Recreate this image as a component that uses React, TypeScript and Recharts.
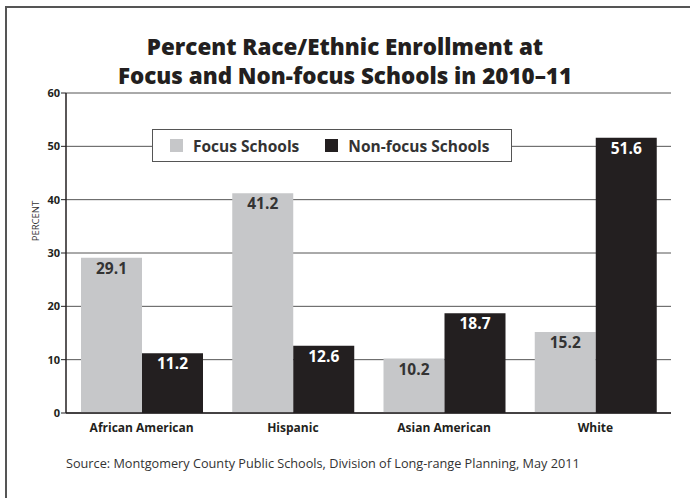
import React from 'react';
import { BarChart, Bar, XAxis, YAxis, CartesianGrid, LabelList } from 'recharts';

const categories = ['African American', 'Hispanic', 'Asian American', 'White'];
const focusValues = [29.1, 41.2, 10.2, 15.2];
const nonFocusValues = [11.2, 12.6, 18.7, 51.6];
const yTicks = [0, 10, 20, 30, 40, 50, 60];
const titleLines = ['Percent Race/Ethnic Enrollment at', 'Focus and Non-focus Schools in 2010\u201311'];
const sourceText = 'Source: Montgomery County Public Schools, Division of Long-range Planning, May 2011';
const seriesNames = ['Focus Schools', 'Non-focus Schools'];
const yAxisTitle = 'PERCENT';

const data = categories.map((c, i) => ({ name: c, focus: focusValues[i], nonfocus: nonFocusValues[i] }));

const GRAY = '#c6c7c9';
const BLACK = '#231f20';
const FONT = '"Open Sans", "Noto Sans", sans-serif';

const LegendBox = () => (
  <div
    style={{
      position: 'absolute',
      left: 152,
      top: 129,
      width: 360,
      height: 33,
      boxSizing: 'border-box',
      border: '1.5px solid #555',
      background: '#fff',
      display: 'flex',
      alignItems: 'center',
      fontFamily: FONT,
      fontWeight: 700,
      fontSize: 15.5,
      color: '#333',
      whiteSpace: 'nowrap',
    }}
  >
    <span style={{ display: 'inline-block', width: 13, height: 13, background: GRAY, marginLeft: 17 }} />
    <span style={{ marginLeft: 10 }}>{seriesNames[0]}</span>
    <span style={{ display: 'inline-block', width: 13, height: 13, background: BLACK, marginLeft: 26 }} />
    <span style={{ marginLeft: 10 }}>{seriesNames[1]}</span>
  </div>
);

const AxisTitle = (props: any) => {
  const vb = props.viewBox || {};
  const cx = 35;
  const cy = (vb.y || 0) + (vb.height || 0) / 2 - 32;
  return (
    <text
      x={cx}
      y={cy}
      transform={`rotate(-90, ${cx}, ${cy})`}
      textAnchor="middle"
      dominantBaseline="central"
      style={{ fontFamily: FONT, fontSize: 9.5, fill: '#333' }}
    >
      {yAxisTitle}
    </text>
  );
};

export default function App() {
  return (
    <div style={{ position: 'absolute', left: 0, top: 0, width: 690, height: 498, background: '#fff', overflow: 'hidden' }}>
      <div
        style={{
          position: 'absolute',
          left: 5,
          top: 6,
          width: 700,
          height: 510,
          borderLeft: '2px solid #555',
          borderTop: '2px solid #555',
        }}
      />
      <div
        style={{
          position: 'absolute',
          left: 0,
          top: 32,
          width: 690,
          textAlign: 'center',
          fontFamily: '"Open Sans", sans-serif',
          fontWeight: 800,
          fontSize: 22.4,
          lineHeight: '29px',
          color: BLACK,
        }}
      >
        {titleLines.map((t) => (
          <div key={t}>{t}</div>
        ))}
      </div>
      <div style={{ position: 'absolute', left: 0, top: 0 }}>
        <BarChart
          width={690}
          height={498}
          data={data}
          margin={{ top: 93, right: 19, bottom: 55, left: 0 }}
          barCategoryGap={15}
          barGap={0}
        >
          <CartesianGrid horizontal vertical={false} stroke="#555" strokeWidth={1} />
          <XAxis
            dataKey="name"
            height={30}
            tickLine={false}
            axisLine={{ stroke: BLACK, strokeWidth: 1.5 }}
            tick={{ fontFamily: FONT, fontWeight: 700, fontSize: 12, fill: BLACK }}
            tickMargin={4}
            interval={0}
          />
          <YAxis
            width={66}
            domain={[0, 60]}
            ticks={yTicks}
            interval={0}
            axisLine={{ stroke: BLACK, strokeWidth: 1.5 }}
            tickLine={{ stroke: BLACK }}
            tickSize={5}
            tickMargin={1}
            tick={{ fontFamily: FONT, fontWeight: 700, fontSize: 11, fill: BLACK }}
            label={<AxisTitle />}
          />
          <YAxis
            yAxisId="right"
            orientation="right"
            width={0}
            domain={[0, 60]}
            tick={false}
            tickLine={false}
            axisLine={{ stroke: '#555', strokeWidth: 1.5 }}
          />
          <Bar dataKey="focus" name={seriesNames[0]} fill={GRAY} isAnimationActive={false}>
            <LabelList
              dataKey="focus"
              position="insideTop"
              offset={5}
              style={{ fontFamily: FONT, fontWeight: 700, fontSize: 15.5, fill: '#333' }}
            />
          </Bar>
          <Bar dataKey="nonfocus" name={seriesNames[1]} fill={BLACK} isAnimationActive={false}>
            <LabelList
              dataKey="nonfocus"
              position="insideTop"
              offset={5}
              style={{ fontFamily: FONT, fontWeight: 700, fontSize: 15.5, fill: '#fff' }}
            />
          </Bar>
        </BarChart>
      </div>
      <LegendBox />
      <div
        style={{
          position: 'absolute',
          left: 66,
          top: 454,
          fontFamily: FONT,
          fontSize: 12.7,
          color: '#333',
          whiteSpace: 'nowrap',
        }}
      >
        {sourceText}
      </div>
    </div>
  );
}
